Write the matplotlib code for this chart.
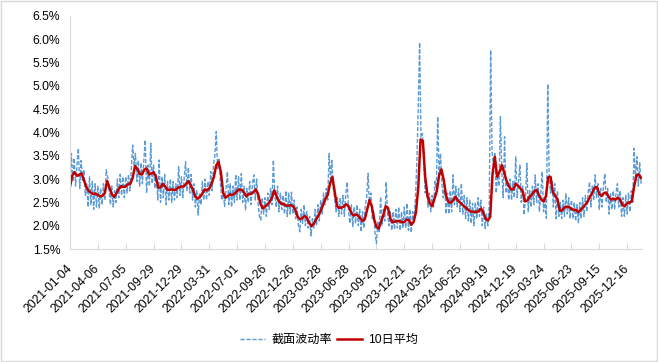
import numpy as np
import matplotlib
matplotlib.use("Agg")
import matplotlib.pyplot as plt
from matplotlib.patches import Rectangle
from matplotlib.ticker import FuncFormatter

plt.rcParams["font.family"] = ["Liberation Sans", "Noto Sans CJK SC", "DejaVu Sans"]
plt.rcParams["font.size"] = 8.7

# x axis labels, one every 60 trading days
tick_labels = ["2021-01-04", "2021-04-06", "2021-07-05", "2021-09-29", "2021-12-29",
               "2022-03-31", "2022-07-01", "2022-09-26", "2022-12-26", "2023-03-28",
               "2023-06-28", "2023-09-20", "2023-12-21", "2024-03-25", "2024-06-25",
               "2024-09-19", "2024-12-19", "2025-03-24", "2025-06-23", "2025-09-15",
               "2025-12-16"]

# cross-sectional volatility (%), read every 3 trading days
vol_daily = [
    2.75, 3.55, 2.95, 3.45, 2.85, 3.30, 3.66, 2.80, 3.40, 2.95, 3.20, 2.65, 2.90, 2.40, 3.05, 2.45, 2.95, 2.35, 2.90, 2.40,
    2.85, 2.38, 2.80, 2.45, 2.90, 2.55, 3.20, 3.05, 2.75, 2.45, 2.85, 2.40, 2.75, 2.50, 3.00, 2.60, 3.10, 2.65, 3.05, 2.60,
    3.05, 2.70, 3.10, 2.75, 3.20, 3.73, 3.30, 3.55, 2.95, 3.40, 2.85, 3.35, 2.90, 3.40, 3.84, 2.70, 3.30, 2.85, 3.77, 2.90,
    3.30, 2.80, 3.10, 2.55, 3.41, 2.50, 3.05, 2.60, 3.10, 2.45, 2.95, 2.55, 3.00, 2.50, 2.95, 2.55, 2.90, 2.60, 3.27, 2.65,
    3.05, 2.60, 3.05, 3.37, 2.75, 3.25, 2.70, 3.10, 2.55, 2.90, 2.40, 2.75, 2.23, 2.70, 2.45, 2.95, 2.55, 3.00, 2.55, 2.95,
    2.65, 3.16, 2.75, 3.30, 3.50, 4.02, 3.20, 3.45, 2.90, 2.55, 2.75, 2.41, 2.80, 3.16, 2.45, 2.90, 2.40, 2.85, 2.50, 3.10,
    2.55, 3.05, 2.55, 3.12, 2.50, 2.85, 2.34, 2.80, 2.50, 2.95, 2.45, 2.90, 3.09, 2.55, 3.00, 2.50, 2.20, 2.12, 2.60, 2.25,
    2.60, 2.20, 2.70, 2.35, 2.80, 2.45, 3.41, 2.70, 2.40, 2.85, 2.30, 2.70, 2.35, 2.65, 2.25, 2.75, 2.20, 2.70, 2.25, 2.72,
    2.25, 2.55, 2.15, 2.40, 2.00, 1.87, 2.35, 2.05, 2.45, 2.00, 2.30, 1.95, 2.20, 1.78, 2.15, 1.95, 2.35, 2.00, 2.45, 2.10,
    2.55, 2.25, 2.70, 2.45, 2.80, 2.55, 3.55, 3.00, 3.40, 2.80, 2.60, 2.30, 2.60, 2.20, 2.60, 2.25, 2.65, 2.20, 2.70, 2.94,
    2.30, 2.05, 2.45, 1.98, 2.40, 2.05, 2.45, 2.00, 2.35, 1.87, 2.30, 1.95, 2.45, 2.60, 3.12, 2.45, 2.70, 2.15, 2.30, 1.85,
    1.62, 2.10, 1.85, 2.62, 2.00, 2.35, 2.10, 2.94, 2.25, 2.00, 2.30, 1.90, 2.30, 1.92, 2.35, 1.95, 2.40, 1.90, 2.30, 1.95,
    2.40, 1.95, 2.48, 1.90, 2.35, 1.85, 2.30, 2.10, 2.60, 3.34, 4.50, 5.93, 3.90, 3.98, 3.40, 2.70, 2.85, 2.40, 2.70, 2.30,
    2.65, 2.40, 2.95, 2.80, 4.34, 3.10, 3.55, 2.90, 2.60, 2.90, 2.25, 2.70, 2.25, 2.75, 2.30, 3.09, 2.45, 2.85, 2.40, 2.80,
    2.30, 2.91, 2.25, 2.65, 2.15, 2.60, 2.10, 2.55, 2.05, 2.48, 2.00, 2.50, 2.15, 2.60, 2.20, 2.55, 2.00, 2.40, 1.94, 2.25,
    2.00, 2.45, 5.77, 3.60, 3.30, 3.55, 2.70, 3.10, 2.85, 4.34, 3.20, 2.60, 3.91, 2.70, 2.95, 2.55, 3.00, 2.55, 2.95, 2.60,
    3.48, 2.60, 2.95, 3.30, 2.50, 2.85, 2.23, 2.60, 3.34, 2.30, 2.75, 2.40, 2.85, 2.45, 3.09, 2.50, 2.90, 2.30, 2.70, 3.16,
    2.30, 2.55, 2.16, 5.04, 3.10, 2.70, 2.95, 2.40, 2.90, 2.15, 2.75, 2.20, 2.50, 2.15, 2.55, 2.20, 2.69, 2.25, 2.60, 2.15,
    2.55, 2.15, 2.50, 2.10, 2.45, 2.05, 2.50, 2.15, 2.60, 2.20, 2.65, 2.30, 2.70, 2.94, 2.40, 2.85, 2.55, 3.09, 2.60, 2.90,
    2.35, 2.80, 2.40, 2.85, 3.12, 2.50, 2.80, 2.25, 2.70, 2.35, 2.75, 2.35, 2.70, 2.90, 2.40, 2.75, 2.20, 2.60, 2.20, 2.65,
    2.25, 2.70, 2.30, 2.75, 2.50, 3.66, 3.00, 3.48, 2.85, 3.35, 2.90,
]

# 10-day average (%), read every 5 trading days
vol_avg10 = [
    2.84, 3.08, 3.15, 3.07, 3.09, 3.12, 2.98, 2.83, 2.75, 2.71, 2.68, 2.69,
    2.66, 2.63, 2.64, 2.70, 2.96, 2.82, 2.67, 2.62, 2.70, 2.79, 2.85, 2.83,
    2.84, 2.89, 2.90, 3.03, 3.28, 3.22, 3.11, 3.10, 3.20, 3.23, 3.10, 3.12,
    3.15, 3.05, 2.82, 2.82, 2.90, 2.84, 2.77, 2.77, 2.78, 2.76, 2.79, 2.83,
    2.84, 2.84, 2.90, 2.96, 2.87, 2.76, 2.62, 2.58, 2.62, 2.69, 2.78, 2.76,
    2.80, 2.90, 3.05, 3.30, 3.37, 3.15, 2.70, 2.60, 2.64, 2.67, 2.66, 2.69,
    2.75, 2.78, 2.77, 2.71, 2.63, 2.68, 2.68, 2.72, 2.78, 2.68, 2.48, 2.37,
    2.41, 2.45, 2.51, 2.60, 2.76, 2.63, 2.52, 2.47, 2.47, 2.43, 2.43, 2.44,
    2.42, 2.35, 2.20, 2.14, 2.16, 2.21, 2.17, 2.06, 1.99, 2.04, 2.13, 2.22,
    2.32, 2.45, 2.57, 2.66, 2.90, 3.05, 2.73, 2.42, 2.38, 2.39, 2.41, 2.46,
    2.42, 2.29, 2.22, 2.24, 2.22, 2.16, 2.10, 2.14, 2.35, 2.55, 2.42, 2.14,
    1.97, 1.94, 2.09, 2.23, 2.42, 2.38, 2.15, 2.07, 2.09, 2.10, 2.10, 2.07,
    2.08, 2.13, 2.12, 2.02, 2.08, 2.28, 2.80, 3.85, 3.82, 3.05, 2.64, 2.48,
    2.42, 2.58, 2.74, 3.08, 3.21, 2.98, 2.64, 2.51, 2.49, 2.54, 2.62, 2.54,
    2.50, 2.45, 2.41, 2.36, 2.32, 2.30, 2.30, 2.29, 2.31, 2.37, 2.29, 2.15,
    2.11, 2.19, 3.10, 3.48, 3.05, 3.15, 3.30, 3.15, 2.97, 2.85, 2.78, 2.78,
    2.90, 2.86, 2.80, 2.74, 2.52, 2.54, 2.62, 2.67, 2.74, 2.77, 2.66, 2.56,
    2.52, 2.63, 3.04, 3.05, 2.72, 2.65, 2.56, 2.32, 2.33, 2.39, 2.41, 2.40,
    2.36, 2.34, 2.34, 2.29, 2.34, 2.40, 2.45, 2.52, 2.62, 2.71, 2.82, 2.83,
    2.68, 2.64, 2.70, 2.71, 2.62, 2.56, 2.58, 2.56, 2.60, 2.56, 2.44, 2.42,
    2.48, 2.50, 2.52, 2.84, 3.08, 3.10, 3.02,
]

DAILY_STEP = 3
AVG_STEP = 5
LABEL_STEP = 60
N_DAYS = 1232

x_daily = np.arange(len(vol_daily)) * DAILY_STEP
x_avg = np.arange(len(vol_avg10)) * AVG_STEP

fig = plt.figure(figsize=(6.58, 3.62), dpi=100)
ax = fig.add_axes([70 / 658, 1 - 249 / 362, 572 / 658, 233 / 362])

ax.plot(x_daily, vol_daily, color="#5B9BD5", lw=1.0, ls=(0, (3.0, 1.3)), label="截面波动率")
ax.plot(x_avg, vol_avg10, color="#C00000", lw=1.8, label="10日平均")

ax.set_xlim(0, N_DAYS)
ax.set_ylim(1.5, 6.5)
ax.set_yticks(np.arange(1.5, 6.51, 0.5))
ax.yaxis.set_major_formatter(FuncFormatter(lambda v, p: f"{v:.1f}%"))
ax.set_xticks(np.arange(len(tick_labels)) * LABEL_STEP)
ax.set_xticklabels(tick_labels, rotation=45, ha="right", va="center", rotation_mode="anchor")

ax.tick_params(axis="x", direction="in", length=4, color="#D9D9D9", pad=13)
ax.tick_params(axis="y", length=0, pad=7)
for side in ["top", "right"]:
    ax.spines[side].set_visible(False)
for side in ["left", "bottom"]:
    ax.spines[side].set_color("#D9D9D9")

fig.legend(loc="center", bbox_to_anchor=(0.5, 1 - 340 / 362), ncol=2, frameon=False,
           handlelength=2.1, handletextpad=0.5, columnspacing=0.4)

# chart area border
fig.patches.append(Rectangle((0.001, 0.002), 0.997, 0.995, transform=fig.transFigure,
                             fill=False, edgecolor="#D9D9D9", lw=1))

fig.savefig("out.png", dpi=100)
